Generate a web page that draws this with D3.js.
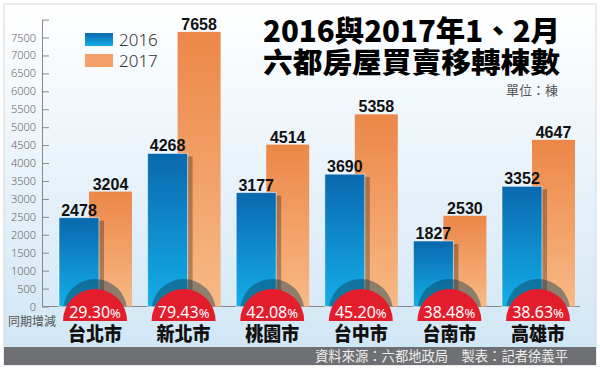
<!DOCTYPE html>
<meta charset="utf-8">
<head>
<style>
body { margin: 0; background: #fff; }
text { font-family: "Noto Sans CJK TC", "Noto Sans", sans-serif; }
.axis text { font-family: "Noto Sans", sans-serif; font-size: 11px; fill: #666; font-weight: 300; }
.axis path, .axis line { stroke: #888; }
.val { font-family: "Liberation Sans", Arial, sans-serif; font-weight: bold; font-size: 16px; fill: #111; text-anchor: middle; }
</style>
</head>
<body>
<script src="https://cdnjs.cloudflare.com/ajax/libs/d3/7.8.5/d3.min.js"></script>
<script>
//------------------------------DATA------------------------------//
var cities = ["台北市", "新北市", "桃園市", "台中市", "台南市", "高雄市"];
var values2016 = [2478, 4268, 3177, 3690, 1827, 3352];
var values2017 = [3204, 7658, 4514, 5358, 2530, 4647];
var changes = ["29.30", "79.43", "42.08", "45.20", "38.48", "38.63"];
var seriesNames = ["2016", "2017"];
var yTicks = d3.range(0, 8001, 500);

var width = 600, height = 370;
var baseY = 306.5;

var svg = d3.select("body").append("svg")
    .attr("width", width)
    .attr("height", height);

var defs = svg.append("defs");
var bg = defs.append("linearGradient").attr("id", "bg").attr("x1", 0).attr("y1", 0).attr("x2", 0).attr("y2", 1);
bg.append("stop").attr("offset", "0%").attr("stop-color", "#ffffff");
bg.append("stop").attr("offset", "100%").attr("stop-color", "#cfe5f5");
var gBlue = defs.append("linearGradient").attr("id", "gBlue").attr("x1", 0).attr("y1", 0).attr("x2", 0).attr("y2", 1);
gBlue.append("stop").attr("offset", "0%").attr("stop-color", "#0a68ae");
gBlue.append("stop").attr("offset", "100%").attr("stop-color", "#14aee8");
var gOrange = defs.append("linearGradient").attr("id", "gOrange").attr("x1", 0).attr("y1", 0).attr("x2", 0).attr("y2", 1);
gOrange.append("stop").attr("offset", "0%").attr("stop-color", "#ec8748");
gOrange.append("stop").attr("offset", "100%").attr("stop-color", "#f8b985");
defs.append("clipPath").attr("id", "above")
    .append("rect").attr("x", 0).attr("y", 0).attr("width", width).attr("height", baseY);

// frame + background
svg.append("rect").attr("x", 4).attr("y", 4).attr("width", 592).attr("height", 361)
    .attr("fill", "url(#bg)").attr("stroke", "#d8d8d8");
svg.append("rect").attr("x", 4).attr("y", 347).attr("width", 592).attr("height", 18)
    .attr("fill", "#6f7073");

//----------------------------SCALES----------------------------//
var y = d3.scaleLinear().domain([0, 8000]).range([baseY, 19.6]);
var x = d3.scaleBand().domain(cities).range([59, 590.6]);

//-----------------------------AXES-----------------------------//
svg.append("g")
    .attr("class", "axis")
    .attr("transform", "translate(42,0)")
    .call(d3.axisLeft(y).tickValues(yTicks).tickSize(-7).tickSizeOuter(0).tickPadding(6)
        .tickFormat(function(d) { return d === 8000 ? "" : d; }));

svg.append("line")
    .attr("x1", 42).attr("x2", 580).attr("y1", baseY).attr("y2", baseY)
    .attr("stroke", "#888");

//----------------------------BARS------------------------------//
var groups = svg.selectAll(".grp")
    .data(cities)
    .enter().append("g")
    .attr("class", "grp");

groups.append("rect")
    .attr("x", function(d) { return x(d) + 30; })
    .attr("width", 43)
    .attr("y", function(d, i) { return y(values2017[i]); })
    .attr("height", function(d, i) { return baseY - y(values2017[i]); })
    .attr("fill", "url(#gOrange)");

groups.append("rect")
    .attr("x", function(d) { return x(d) + 40; })
    .attr("width", 5)
    .attr("y", function(d, i) { return y(values2016[i]) + 3; })
    .attr("height", function(d, i) { return baseY - y(values2016[i]) - 3; })
    .attr("fill", "#000").attr("opacity", 0.28);

groups.append("rect")
    .attr("x", function(d) { return x(d); })
    .attr("width", 40)
    .attr("y", function(d, i) { return y(values2016[i]); })
    .attr("height", function(d, i) { return baseY - y(values2016[i]); })
    .attr("fill", "url(#gBlue)")
    .attr("stroke", "#ffffff").attr("stroke-opacity", 0.55).attr("stroke-width", 1);

groups.append("text")
    .attr("class", "val")
    .attr("x", function(d) { return x(d) + 20; })
    .attr("y", function(d, i) { return y(values2016[i]) - 2; })
    .text(function(d, i) { return values2016[i]; });

groups.append("text")
    .attr("class", "val")
    .attr("x", function(d) { return x(d) + 51.5; })
    .attr("y", function(d, i) { return y(values2017[i]) - 2; })
    .text(function(d, i) { return values2017[i]; });

//--------------------------CHANGE BADGES-----------------------//
var half = d3.arc().innerRadius(0).outerRadius(32).startAngle(-Math.PI / 2).endAngle(Math.PI / 2);

groups.append("circle")
    .attr("cx", function(d) { return x(d) + 36; })
    .attr("cy", 311)
    .attr("r", 32)
    .attr("clip-path", "url(#above)")
    .attr("fill", "#0d3c55").attr("opacity", 0.45);

groups.append("path")
    .attr("transform", function(d) { return "translate(" + (x(d) + 36) + ",321)"; })
    .attr("d", half)
    .attr("fill", "#e31d2b");

var pct = groups.append("text")
    .attr("x", function(d) { return x(d) + 36; })
    .attr("y", 318)
    .attr("text-anchor", "middle")
    .style("fill", "#ffffff")
    .style("font-family", "'Noto Sans', sans-serif")
    .style("font-weight", 400);
pct.append("tspan").style("font-size", "16px").text(function(d, i) { return changes[i]; });
pct.append("tspan").style("font-size", "13px").text("%");

groups.append("text")
    .attr("x", function(d) { return x(d) + 36; })
    .attr("y", 341)
    .attr("text-anchor", "middle")
    .attr("textLength", 54).attr("lengthAdjust", "spacingAndGlyphs")
    .style("font-size", "19px").style("font-weight", 900).attr("fill", "#111")
    .text(function(d) { return d; });

//----------------------------LEGEND----------------------------//
var legend = svg.selectAll(".leg")
    .data(seriesNames)
    .enter().append("g")
    .attr("transform", function(d, i) { return "translate(85," + (33 + i * 21) + ")"; });
legend.append("rect").attr("width", 28).attr("height", 13)
    .attr("fill", function(d, i) { return i === 0 ? "url(#gBlue)" : "#f4a06a"; });
legend.append("text").attr("x", 34).attr("y", 13)
    .style("font-family", "'Noto Sans', sans-serif").style("font-size", "17px").style("font-weight", 300)
    .attr("fill", "#333")
    .text(function(d) { return d; });

//----------------------------TITLES----------------------------//
svg.append("text").attr("x", 263).attr("y", 41.5)
    .attr("textLength", 297).attr("lengthAdjust", "spacingAndGlyphs")
    .style("font-size", "29px").style("font-weight", 900).attr("fill", "#000")
    .text("2016與2017年1、2月");
svg.append("text").attr("x", 263).attr("y", 72.5)
    .attr("textLength", 297).attr("lengthAdjust", "spacingAndGlyphs")
    .style("font-size", "28px").style("font-weight", 900).attr("fill", "#000")
    .text("六都房屋買賣移轉棟數");
svg.append("text").attr("x", 558).attr("y", 95).attr("text-anchor", "end")
    .style("font-size", "13px").attr("fill", "#555")
    .text("單位：棟");
svg.append("text").attr("x", 8).attr("y", 325.5)
    .style("font-size", "12px").attr("fill", "#555")
    .text("同期增減");
svg.append("text").attr("x", 568).attr("y", 361).attr("text-anchor", "end")
    .attr("textLength", 253).attr("lengthAdjust", "spacingAndGlyphs")
    .style("font-size", "13.5px").attr("fill", "#eeeeee")
    .text("資料來源：六都地政局　製表：記者徐義平");
</script>
</body>
</html>
